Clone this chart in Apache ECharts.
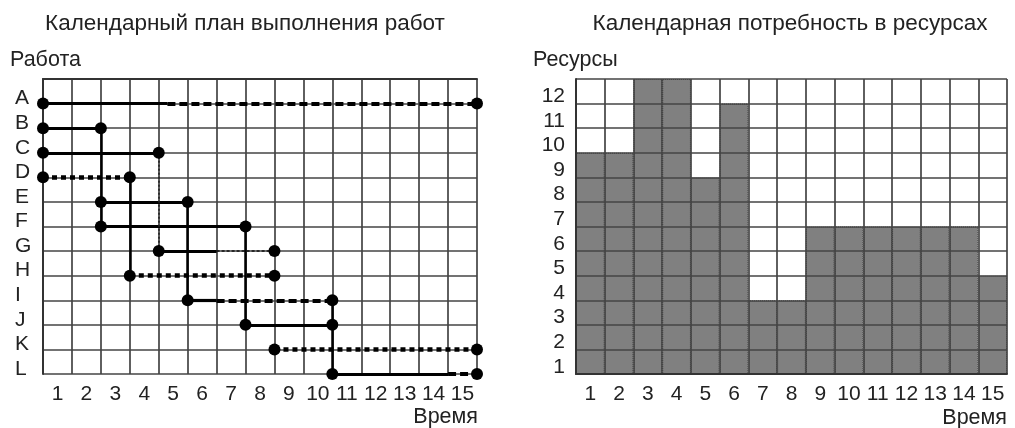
<!DOCTYPE html>
<html><head><meta charset="utf-8">
<script src="https://cdn.jsdelivr.net/npm/echarts@6/dist/echarts.min.js"></script>
<style>html,body{margin:0;padding:0;background:#fff}#c{width:1015px;height:428px}</style>
</head><body><div id="c"></div>
<script>
// ---- data ----
const works = ['A','B','C','D','E','F','G','H','I','J','K','L'];
const workStart    = [0, 0, 0, 0, 2, 2, 4, 3, 5, 7, 8, 10];
const workSolidEnd = [4.3, 2, 4, 0, 5, 7, 6, 3, 6, 10, 8, 14];
const workEnd      = [15, 2, 4, 3, 5, 7, 8, 8, 10, 10, 15, 15];
const workSlack    = ['dashed','none','none','dotted','none','none','thin','dotted','dashed','none','dotted','dashed'];
const linkTime  = [2, 3, 4, 5, 7, 10];
const linkFrom  = ['B','D','C','E','F','I'];
const linkTo    = ['F','H','G','I','J','L'];
const linkStyle = ['solid','solid','thinDot','solid','solid','solid'];
const timeLabels = ['1','2','3','4','5','6','7','8','9','10','11','12','13','14','15'];
const resourceLabels = ['1','2','3','4','5','6','7','8','9','10','11','12'];
const resources = [9, 9, 12, 12, 8, 11, 3, 3, 6, 6, 6, 6, 6, 6, 4];

// ---- styles ----
const FONT = 'Liberation Sans';
const TXT = '#222';
const GRID = {color:'#444', width:1.7};
const styles = {
  solid:   {color:'#000', width:3.2, type:'solid', opacity:1},
  dashed:  {color:'#000', width:4, type:[8,4], opacity:1},
  dotted:  {color:'#000', width:4.6, type:[5,4], opacity:1},
  thin:    {color:'#111', width:1.6, type:[3,2], opacity:1},
  thinDot: {color:'#222', width:1.6, type:[2,2], opacity:1}
};
const linkStyles = {solid:{color:'#000', width:2.5, type:'solid', opacity:1}, thinDot: styles.thinDot};

const row = n => works.indexOf(n) + 1;
const segs = [];
works.forEach((w, i) => {
  const r = i + 1;
  if (workSolidEnd[i] > workStart[i]) segs.push({coords:[[workStart[i], r],[workSolidEnd[i], r]], lineStyle: styles.solid});
  const s0 = Math.max(workStart[i], workSolidEnd[i]);
  if (workSlack[i] !== 'none' && workEnd[i] > s0) segs.push({coords:[[s0, r],[workEnd[i], r]], lineStyle: styles[workSlack[i]]});
});
const links = linkTime.map((t, i) => ({coords:[[t, row(linkFrom[i])],[t, row(linkTo[i])]], lineStyle: linkStyles[linkStyle[i]]}));
const dots = [];
works.forEach((w, i) => { dots.push([workStart[i], i + 1]); dots.push([workEnd[i], i + 1]); });

const chart = echarts.init(document.getElementById('c'), null, {renderer:'canvas'});
const lblStyle = {fontFamily: FONT, fontSize: 21, color: TXT};
chart.setOption({
  animation: false,
  backgroundColor: '#fff',
  grid: [
    {left: 43, top: 79, width: 434, height: 295},
    {left: 576, top: 79, width: 431, height: 295}
  ],
  xAxis: [
    {type:'value', gridIndex:0, min:0, max:15, interval:1, position:'bottom', z:1,
     axisLine:{show:true, lineStyle:{color:'#333', width:2}}, axisTick:{show:false}, axisLabel:{show:false},
     splitLine:{show:true, lineStyle:GRID}},
    {type:'category', gridIndex:0, data: timeLabels, boundaryGap:true, position:'bottom',
     axisLine:{show:false}, axisTick:{show:false}, splitLine:{show:false},
     axisLabel:Object.assign({margin:10, interval:0}, lblStyle)},
    {type:'category', gridIndex:1, data: timeLabels, boundaryGap:true, position:'bottom', z:10,
     axisLine:{show:true, lineStyle:{color:'#333', width:2}}, axisTick:{show:false},
     splitLine:{show:true, interval:0, lineStyle:GRID},
     axisLabel:Object.assign({margin:10, interval:0}, lblStyle)}
  ],
  yAxis: [
    {type:'value', gridIndex:0, min:0, max:12, interval:1, inverse:true, position:'left', z:1,
     axisLine:{show:true, lineStyle:{color:'#333', width:2}}, axisTick:{show:false},
     splitLine:{show:true, lineStyle:GRID},
     axisLabel:Object.assign({margin:28, align:'left', verticalAlign:'bottom', lineHeight:10, formatter: v => works[v-1] || ''}, lblStyle)},
    {type:'value', gridIndex:1, min:0, max:12, interval:1, position:'left', z:10,
     axisLine:{show:true, lineStyle:{color:'#333', width:2}}, axisTick:{show:false}, axisLabel:{show:false},
     splitLine:{show:true, lineStyle:GRID}},
    {type:'category', gridIndex:1, data: resourceLabels, boundaryGap:true, position:'left',
     axisLine:{show:false}, axisTick:{show:false}, splitLine:{show:false},
     axisLabel:Object.assign({margin:11, interval:0, verticalAlign:'top', lineHeight:10}, lblStyle)}
  ],
  series: [
    {type:'bar', xAxisIndex:2, yAxisIndex:1, data: resources, barWidth:'100%', z:2,
     itemStyle:{color:'#808080', borderColor:'#333', borderWidth:1, borderType:'dotted'}},
    {type:'lines', coordinateSystem:'cartesian2d', xAxisIndex:0, yAxisIndex:0, polyline:false, clip:false, z:3,
     lineStyle:{opacity:1, color:'#000'}, data: segs.concat(links)},
    {type:'scatter', xAxisIndex:0, yAxisIndex:0, data: dots, symbol:'circle', symbolSize:12, clip:false, z:4,
     itemStyle:{color:'#000', opacity:1}}
  ],
  graphic: [
    {type:'text', x:245, y:24, style:{text:'Календарный план выполнения работ', font:'22.5px '+FONT, fill:TXT, textAlign:'center', textVerticalAlign:'middle'}},
    {type:'text', x:790, y:24, style:{text:'Календарная потребность в ресурсах', font:'22.5px '+FONT, fill:TXT, textAlign:'center', textVerticalAlign:'middle'}},
    {type:'text', x:10, y:60, style:{text:'Работа', font:'21.5px '+FONT, fill:TXT, textAlign:'left', textVerticalAlign:'middle'}},
    {type:'text', x:533, y:60, style:{text:'Ресурсы', font:'21.5px '+FONT, fill:TXT, textAlign:'left', textVerticalAlign:'middle'}},
    {type:'text', x:478, y:417, style:{text:'Время', font:'21.5px '+FONT, fill:TXT, textAlign:'right', textVerticalAlign:'middle'}},
    {type:'text', x:1007, y:418, style:{text:'Время', font:'21.5px '+FONT, fill:TXT, textAlign:'right', textVerticalAlign:'middle'}}
  ]
});
</script></body></html>
